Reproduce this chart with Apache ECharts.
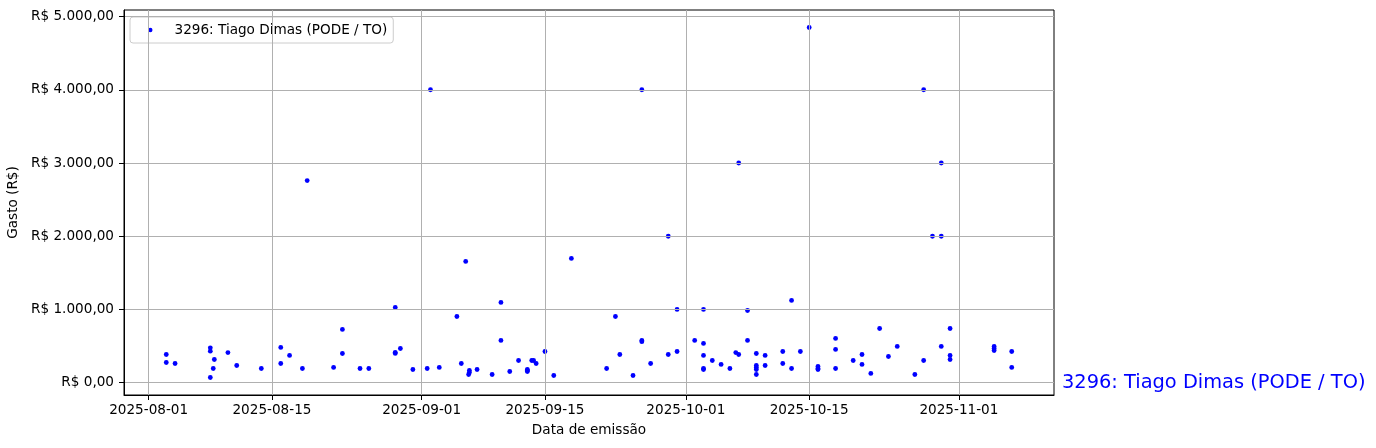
<!DOCTYPE html>
<html>
<head>
<meta charset="utf-8">
<script src="https://cdn.jsdelivr.net/npm/echarts@6/dist/echarts.min.js"></script>
<style>
html,body{margin:0;padding:0;background:#fff;}
#chart{width:1376px;height:448px;}
</style>
</head>
<body>
<div id="chart"></div>
<script>
const seriesName = '3296: Tiago Dimas (PODE / TO)';
const xTickLabels = ['2025-08-01','2025-08-15','2025-09-01','2025-09-15','2025-10-01','2025-10-15','2025-11-01'];
const yTickValues = [0, 1000, 2000, 3000, 4000, 5000];

const emissionDates = [
  '2025-08-03','2025-08-03','2025-08-04','2025-08-08','2025-08-08','2025-08-08','2025-08-08 11:00','2025-08-08 08:00',
  '2025-08-10','2025-08-11','2025-08-13 19:00','2025-08-16','2025-08-16','2025-08-17','2025-08-18 11:00','2025-08-19',
  '2025-08-22','2025-08-23','2025-08-23','2025-08-25','2025-08-26','2025-08-29','2025-08-29','2025-08-29',
  '2025-08-29 14:00','2025-08-31','2025-09-01 15:00','2025-09-02','2025-09-03','2025-09-05','2025-09-05 12:00','2025-09-06',
  '2025-09-06 10:00','2025-09-06 10:00','2025-09-06 08:00','2025-09-07 07:00','2025-09-09','2025-09-10','2025-09-10','2025-09-11',
  '2025-09-12','2025-09-13','2025-09-13','2025-09-13','2025-09-13 12:00','2025-09-13 17:00','2025-09-14','2025-09-15',
  '2025-09-16','2025-09-18','2025-09-22','2025-09-23','2025-09-23 12:00','2025-09-25','2025-09-26','2025-09-26',
  '2025-09-26','2025-09-27','2025-09-29','2025-09-29','2025-09-30','2025-09-30','2025-10-02','2025-10-03',
  '2025-10-03','2025-10-03','2025-10-03','2025-10-03','2025-10-04','2025-10-05','2025-10-06','2025-10-06 16:00',
  '2025-10-07','2025-10-07','2025-10-08','2025-10-08','2025-10-09','2025-10-09','2025-10-09','2025-10-09',
  '2025-10-09','2025-10-10','2025-10-10','2025-10-12','2025-10-12','2025-10-13','2025-10-13','2025-10-14',
  '2025-10-15','2025-10-16','2025-10-16','2025-10-16','2025-10-18','2025-10-18','2025-10-18','2025-10-20',
  '2025-10-21','2025-10-21','2025-10-22','2025-10-23','2025-10-24','2025-10-25','2025-10-27','2025-10-28',
  '2025-10-28','2025-10-29','2025-10-30','2025-10-30','2025-10-30','2025-10-31','2025-10-31','2025-10-31',
  '2025-11-05','2025-11-05','2025-11-05','2025-11-07','2025-11-07'
];
const spentValues = [
  385,276,262,476,430,71,317,194,
  412,235,194,481,262,372,194,2760,
  208,727,399,194,194,1027,400,415,
  467,180,194,4000,208,904,262,1656,
  167,139,112,180,112,1096,577,153,
  303,180,165,153,303,303,262,426,
  98,1697,194,904,385,98,4000,577,
  560,262,2000,385,1000,426,577,1000,
  536,372,194,180,303,249,194,412,
  385,3000,986,577,399,235,208,180,
  112,372,235,426,262,1123,194,426,
  4850,221,194,180,604,454,194,303,
  385,249,126,740,358,495,112,303,
  4000,2000,495,3000,2000,740,372,317,
  495,467,440,426,208
];

function parseT(s) {
  const parts = s.split(' ');
  const [Y, M, D] = parts[0].split('-').map(Number);
  const h = parts[1] ? Number(parts[1].split(':')[0]) : 0;
  return Date.UTC(Y, M - 1, D, h);
}
function pad2(n){ return (n < 10 ? '0' : '') + n; }
function fmtDate(v) {
  const d = new Date(v);
  return d.getUTCFullYear() + '-' + pad2(d.getUTCMonth() + 1) + '-' + pad2(d.getUTCDate());
}
function fmtBRL(v) {
  const s = Math.round(v).toString().replace(/\B(?=(\d{3})+(?!\d))/g, '.');
  return 'R$ ' + s + ',00';
}

const points = emissionDates.map((d, i) => [parseT(d), spentValues[i]]);
const ts = points.map(p => p[0]);
const tMin = Math.min(...ts), tMax = Math.max(...ts);
const vMin = Math.min(...spentValues), vMax = Math.max(...spentValues);
const xPad = (tMax - tMin) * 0.05, yPad = (vMax - vMin) * 0.05;
const xTicks = xTickLabels.map(parseT);

const FONT = 'DejaVu Sans';
const chart = echarts.init(document.getElementById('chart'), null, {renderer: 'canvas'});
chart.setOption({
  animation: false,
  backgroundColor: '#ffffff',
  textStyle: {fontFamily: FONT},
  grid: {left: 124, right: 322, top: 10, bottom: 53, containLabel: false, outerBoundsMode: 'none',
         show: true, borderColor: '#000', borderWidth: 1, backgroundColor: 'transparent'},
  legend: {
    left: 130, top: 17,
    padding: [6, 6, 6, 18],
    backgroundColor: 'rgba(255,255,255,0.8)',
    borderColor: '#cccccc', borderWidth: 1, borderRadius: 3,
    itemWidth: 4.5, itemHeight: 4.5, icon: 'circle',
    textStyle: {fontFamily: FONT, fontSize: 13.6, color: '#000', padding: [0, 0, 0, 17]},
    data: [seriesName]
  },
  xAxis: {
    type: 'value',
    min: tMin - xPad, max: tMax + xPad,
    z: 5,
    name: 'Data de emissão', nameLocation: 'middle', nameGap: 28,
    nameTextStyle: {fontFamily: FONT, fontSize: 13.6, color: '#000'},
    axisLine: {show: true, onZero: false, lineStyle: {color: '#000', width: 1}},
    axisTick: {show: true, inside: false, length: 5, lineStyle: {color: '#000'}, customValues: xTicks},
    axisLabel: {color: '#000', fontFamily: FONT, fontSize: 13.6, margin: 8, customValues: xTicks, formatter: v => fmtDate(v)},
    splitLine: {show: true, lineStyle: {color: '#b0b0b0', width: 1}}
  },
  yAxis: {
    type: 'value',
    min: vMin - yPad, max: vMax + yPad,
    z: 5,
    name: 'Gasto (R$)', nameLocation: 'middle', nameGap: 97,
    nameTextStyle: {fontFamily: FONT, fontSize: 13.6, color: '#000'},
    axisLine: {show: true, onZero: false, lineStyle: {color: '#000', width: 1}},
    axisTick: {show: true, inside: false, length: 5, lineStyle: {color: '#000'}, customValues: yTickValues},
    axisLabel: {color: '#000', fontFamily: FONT, fontSize: 13.6, margin: 10, customValues: yTickValues, formatter: v => fmtBRL(v)},
    splitLine: {show: true, lineStyle: {color: '#b0b0b0', width: 1}}
  },
  series: [{
    name: seriesName,
    type: 'scatter',
    symbol: 'circle',
    symbolSize: 4.8,
    itemStyle: {color: '#0000ff', opacity: 1},
    data: points,
    z: 2
  }],
  graphic: [{
    type: 'text',
    left: 1062, top: 373,
    style: {text: seriesName, fill: '#0000ff', font: '19.4px "DejaVu Sans"'}
  }]
});
</script>
</body>
</html>
